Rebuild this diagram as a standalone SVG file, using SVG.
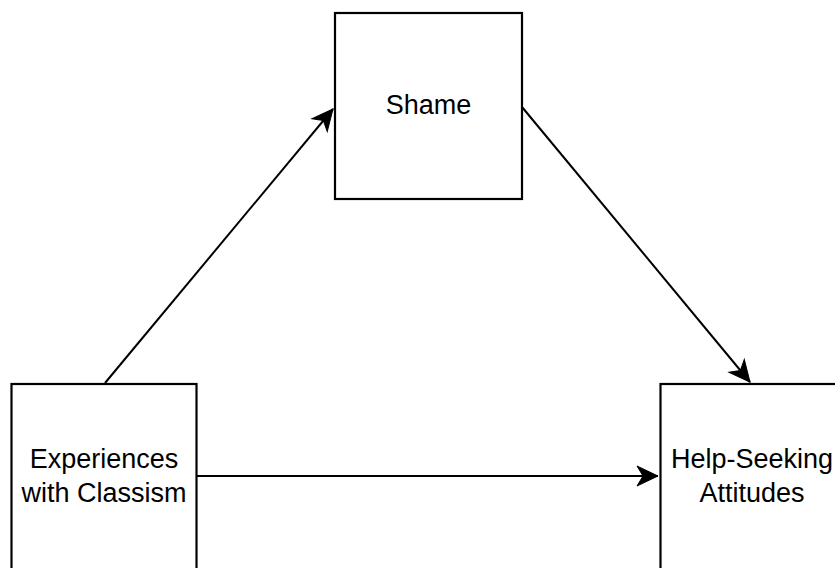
<svg xmlns="http://www.w3.org/2000/svg" width="835" height="568" viewBox="0 0 835 568">
<style>
.box{fill:#fff;stroke:#000;stroke-width:2.2}
.lbl{font-family:"Liberation Sans",Arial,sans-serif;font-size:27px;fill:#000;text-anchor:middle}
.edge{fill:none;stroke:#000;stroke-width:2;marker-end:url(#arr)}
</style>
<defs>
<marker id="arr" markerUnits="userSpaceOnUse" markerWidth="24" markerHeight="24" viewBox="-22 -12 24 24" refX="0" refY="0" orient="auto">
<path d="M0,0 L-21,-10 L-15,0 L-21,10 Z" fill="#000" stroke="#000" stroke-width="1"/>
</marker>
</defs>
<rect width="835" height="568" fill="#fff"/>
<g id="connectors">
<path class="edge" d="M105,383 L333,109"/>
<path class="edge" d="M522,107 L750,382"/>
<path class="edge" d="M197,476 L658,476"/>
</g>
<g id="shame">
<rect class="box" x="335" y="13" width="187" height="186"/>
<text class="lbl" x="428.5" y="114">Shame</text>
</g>
<g id="experiences">
<rect class="box" x="11.5" y="384" width="185" height="200"/>
<text class="lbl" x="104" y="468">Experiences</text>
<text class="lbl" x="104" y="502">with Classism</text>
</g>
<g id="helpseeking">
<rect class="box" x="660.5" y="384" width="185" height="200"/>
<text class="lbl" x="752" y="468">Help-Seeking</text>
<text class="lbl" x="752" y="502">Attitudes</text>
</g>
</svg>
